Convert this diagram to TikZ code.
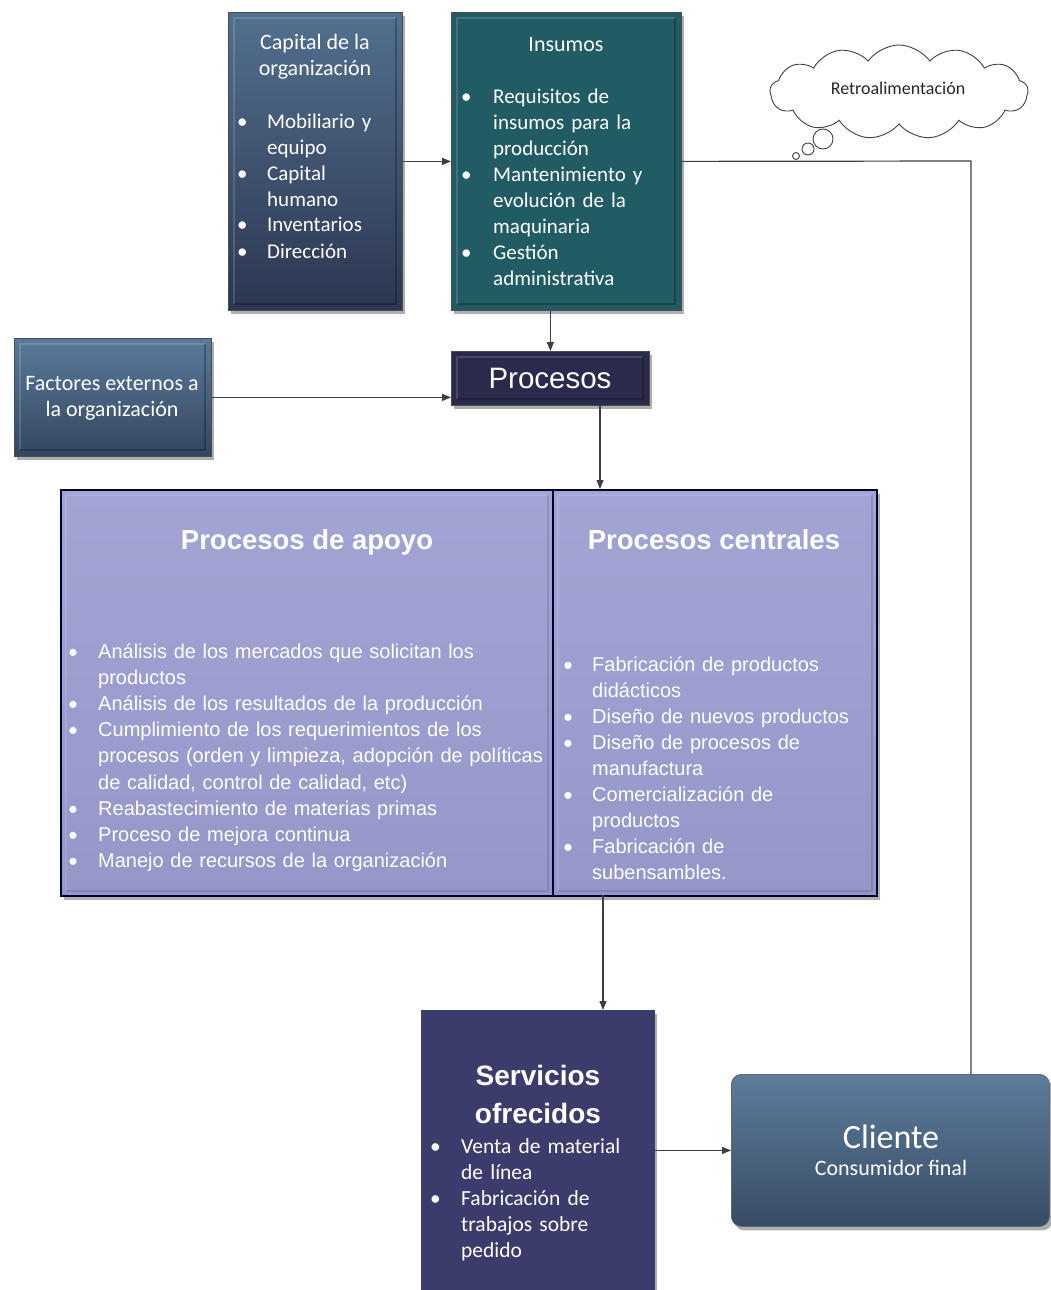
\documentclass[tikz,border=0pt]{standalone}
\usepackage{fontspec}
\setmainfont{Carlito}
\newfontfamily\arialf{Liberation Sans}
\newfontfamily\bulfont{Carlito}
\usetikzlibrary{shapes.symbols,shadows,arrows.meta}
\newcommand{\bul}[2][25pt]{\hangindent=#1\hangafter=1\noindent\makebox[#1][l]{\bulfont\textbullet}#2\par}
\definecolor{capTop}{HTML}{52708F}
\definecolor{capBot}{HTML}{2C3650}
\definecolor{insC}{HTML}{215B63}
\definecolor{proC}{HTML}{2A2A4C}
\definecolor{facTop}{HTML}{5A7A9C}
\definecolor{facBot}{HTML}{33465E}
\definecolor{lavTop}{HTML}{A2A5D4}
\definecolor{lavBot}{HTML}{9497C8}
\definecolor{serC}{HTML}{3C3C6C}
\definecolor{cliTop}{HTML}{5D7C9C}
\definecolor{cliBot}{HTML}{374C64}
\definecolor{lineC}{HTML}{3A3F48}
\tikzset{
  boxbase/.style={rectangle, inner sep=0pt, anchor=north west, draw=black!70, line width=0.8pt,
    drop shadow={shadow xshift=3pt, shadow yshift=-4pt, opacity=.45, fill=black!70}},
  bevel/.style={path picture={
    \draw[white, opacity=.15, line width=2pt]
      ([shift={(6pt,6pt)}]path picture bounding box.south west) --
      ([shift={(6pt,-6pt)}]path picture bounding box.north west) --
      ([shift={(-6pt,-6pt)}]path picture bounding box.north east);
    \draw[black, opacity=.25, line width=2pt]
      ([shift={(-6pt,-6pt)}]path picture bounding box.north east) --
      ([shift={(-6pt,6pt)}]path picture bounding box.south east) --
      ([shift={(6pt,6pt)}]path picture bounding box.south west);
  }},
  softbevel/.style={path picture={
    \draw[white, opacity=.12, line width=2pt]
      ([shift={(5pt,5pt)}]path picture bounding box.south west) --
      ([shift={(5pt,-5pt)}]path picture bounding box.north west) --
      ([shift={(-5pt,-5pt)}]path picture bounding box.north east);
    \draw[black, opacity=.12, line width=2pt]
      ([shift={(-5pt,-5pt)}]path picture bounding box.north east) --
      ([shift={(-5pt,5pt)}]path picture bounding box.south east) --
      ([shift={(5pt,5pt)}]path picture bounding box.south west);
  }},
  conn/.style={draw=lineC, line width=1.2pt, -{Triangle[length=9pt,width=7pt]}},
  plainline/.style={draw=lineC, line width=1.2pt},
  wtext/.style={text=white, inner sep=0pt, align=left},
  ctext/.style={text=white, inner sep=0pt, align=center},
}
\begin{document}
\begin{tikzpicture}[x=1pt,y=-1pt]
\useasboundingbox[fill=white] (0,0) rectangle (1050,1290);

% boxes
\node[boxbase, bevel, top color=capTop, bottom color=capBot, minimum width=174pt, minimum height=298pt] (cap) at (228,12) {};
\node[boxbase, bevel, fill=insC, minimum width=230pt, minimum height=298pt] (ins) at (451,12) {};
\node[boxbase, bevel, fill=proC, minimum width=198pt, minimum height=54pt] (pro) at (451,351) {};
\node[boxbase, bevel, top color=facTop, bottom color=facBot, minimum width=197pt, minimum height=118pt] (fac) at (14,338) {};
\node[boxbase, softbevel, top color=lavTop, bottom color=lavBot, draw=black!80!blue, line width=1.6pt, minimum width=492pt, minimum height=406pt] (apo) at (60,489) {};
\node[boxbase, softbevel, top color=lavTop, bottom color=lavBot, draw=black!80!blue, line width=1.6pt, minimum width=324pt, minimum height=406pt] (cen) at (552,489) {};
\node[boxbase, fill=serC, draw=serC, minimum width=233pt, minimum height=280pt] (ser) at (421,1010) {};
\node[boxbase, rounded corners=10pt, top color=cliTop, bottom color=cliBot, draw=black!60, minimum width=318pt, minimum height=152pt] (cli) at (731,1074) {};

% cloud
\node[cloud, cloud puffs=13, cloud puff arc=110, aspect=2.8, draw=black!75, line width=0.9pt, fill=white, minimum width=258pt, minimum height=94pt, inner sep=0pt] (cloud) at (899,92) {};
\node[inner sep=0pt, anchor=base, font=\fontsize{18}{20}\selectfont, text=black!85] (cloudtxt) at (898,94) {Retroalimentación};
\node[circle, draw=black!75, line width=0.9pt, fill=white, minimum size=20pt, inner sep=0pt] (c1) at (823,139) {};
\node[circle, draw=black!75, line width=0.9pt, fill=white, minimum size=12pt, inner sep=0pt] (c2) at (808,149) {};
\node[circle, draw=black!75, line width=0.9pt, fill=white, minimum size=7pt, inner sep=0pt] (c3) at (796,156) {};

% texts: capital
\node[ctext, anchor=base, font=\fontsize{22}{26}\selectfont] (captitle) at (315,76) {Capital de la\\organización};
\node[wtext, anchor=base west, text width=165pt, font=\fontsize{21}{26}\selectfont] (caplist) at (237,128) {%
\bul[30pt]{Mobiliario y\newline equipo}\bul[30pt]{Capital\newline humano}\bul[30pt]{Inventarios}\bul[30pt]{Dirección}};

% insumos
\node[ctext, anchor=base, font=\fontsize{22}{24}\selectfont] (institle) at (566,52) {Insumos};
\node[wtext, anchor=base west, text width=215pt, font=\fontsize{21}{26}\selectfont] (inslist) at (461,103) {%
\bul[32pt]{Requisitos de\newline insumos para la\newline producción}\bul[32pt]{Mantenimiento y\newline evolución de la\newline maquinaria}\bul[32pt]{Gestión\newline administrativa}};

% procesos
\node[ctext, anchor=base, font=\arialf\fontsize{29.5}{32}\selectfont] (protxt) at (550,388) {Procesos};

% factores
\node[ctext, anchor=base, font=\fontsize{22}{26}\selectfont] (factxt) at (112,416) {Factores externos a\\la organización};

% apoyo
\node[ctext, anchor=base, font=\arialf\bfseries\fontsize{27.5}{34}\selectfont] (apotitle) at (307,549) {Procesos de apoyo};
\node[wtext, anchor=base west, text width=485pt, font=\arialf\fontsize{20}{26.2}\selectfont] (apolist) at (68,658) {%
\bul[30pt]{Análisis de los mercados que solicitan los\newline productos}\bul[30pt]{Análisis de los resultados de la producción}\bul[30pt]{Cumplimiento de los requerimientos de los\newline procesos (orden y limpieza, adopción de políticas\newline de calidad, control de calidad, etc)}\bul[30pt]{Reabastecimiento de materias primas}\bul[30pt]{Proceso de mejora continua}\bul[30pt]{Manejo de recursos de la organización}};

% centrales
\node[ctext, anchor=base, font=\arialf\bfseries\fontsize{27.5}{34}\selectfont] (centitle) at (714,549) {Procesos centrales};
\node[wtext, anchor=base west, text width=310pt, font=\arialf\fontsize{20}{26.1}\selectfont] (cenlist) at (563,671) {%
\bul[29pt]{Fabricación de productos\newline didácticos}\bul[29pt]{Diseño de nuevos productos}\bul[29pt]{Diseño de procesos de\newline manufactura}\bul[29pt]{Comercialización de\newline productos}\bul[29pt]{Fabricación de\newline subensambles.}};

% servicios
\node[ctext, anchor=base, font=\arialf\bfseries\fontsize{28}{38}\selectfont] (sertitle) at (538,1123) {Servicios\\ofrecidos};
\node[wtext, anchor=base west, text width=225pt, font=\fontsize{21.5}{26}\selectfont] (serlist) at (430,1153) {%
\bul[31pt]{Venta de material\newline de línea}\bul[31pt]{Fabricación de\newline trabajos sobre\newline pedido}};

% cliente
\node[ctext, anchor=base, font=\fontsize{34}{36}\selectfont] (clititle) at (891,1148) {Cliente};
\node[ctext, anchor=base, font=\fontsize{22}{24}\selectfont] (clisub) at (891,1175) {Consumidor final};

% connectors
\coordinate (fb) at (971,161);
\draw[conn] (cap.east) -- (ins.west);
\draw[plainline] (ins.east) -- (fb) -- (fb |- cli.north);
\draw[conn] (ins.south -| pro.north) -- (pro.north);
\draw[conn] (fac.east) -- (fac.east -| pro.west);
\coordinate (pc) at (600,405);
\draw[conn] (pc) -- (pc |- cen.north);
\coordinate (cs) at (603,895);
\draw[conn] (cs) -- (cs |- ser.north);
\draw[conn] (ser.east) -- (cli.west);
\end{tikzpicture}
\end{document}
